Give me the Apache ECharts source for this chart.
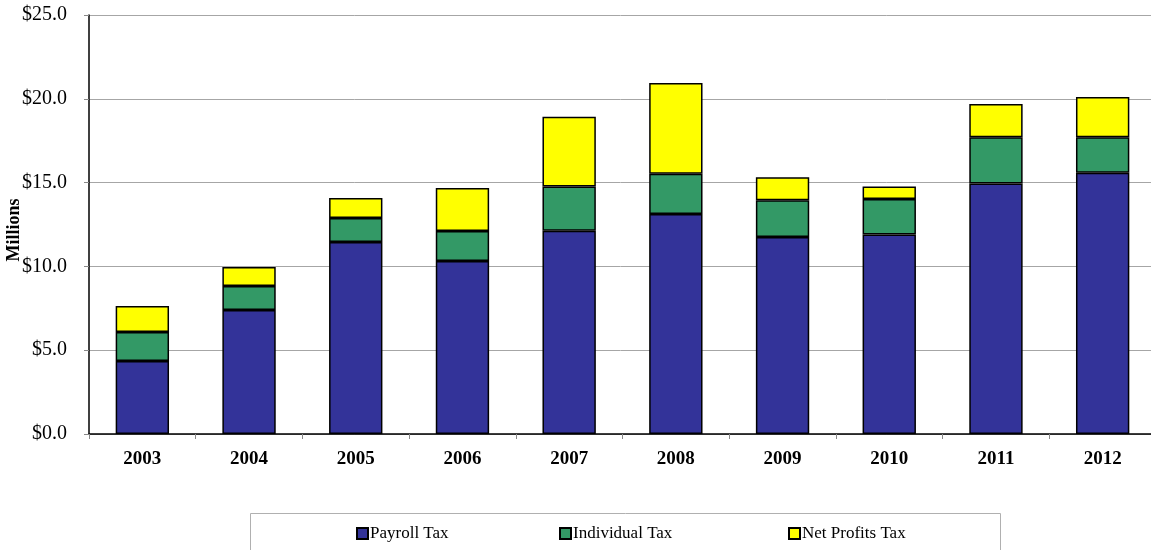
<!DOCTYPE html>
<html>
<head>
<meta charset="utf-8">
<script src="https://cdn.jsdelivr.net/npm/echarts@6/dist/echarts.min.js"></script>
<style>
  html, body { margin: 0; padding: 0; background: #fff; }
  #chart { width: 1151px; height: 550px; }
</style>
</head>
<body>
<div id="chart"></div>
<script>
// Tax revenue by year, in millions of dollars
const years = ['2003', '2004', '2005', '2006', '2007', '2008', '2009', '2010', '2011', '2012'];
const payrollTax = [4.36, 7.40, 11.46, 10.32, 12.13, 13.13, 11.75, 11.91, 14.94, 15.59];
const individualTax = [1.73, 1.43, 1.43, 1.79, 2.63, 2.40, 2.19, 2.11, 2.76, 2.11];
const netProfitsTax = [1.55, 1.13, 1.19, 2.57, 4.17, 5.41, 1.38, 0.74, 1.99, 2.41];

const seriesNames = ['Payroll Tax', 'Individual Tax', 'Net Profits Tax'];
const seriesColors = ['#333399', '#339966', '#FFFF00'];
const seriesData = [payrollTax, individualTax, netProfitsTax];

const serif = '"Liberation Serif", "DejaVu Serif", serif';

const chart = echarts.init(document.getElementById('chart'), null, { renderer: 'canvas' });

// horizontal position of each legend entry inside the framed legend box
const legendLefts = [356, 559, 788];

chart.setOption({
  animation: false,
  textStyle: { fontFamily: serif },
  grid: { left: 89, right: -5, top: 15, bottom: 116, containLabel: false, outerBoundsMode: 'none' },
  graphic: [
    {
      type: 'rect',
      shape: { x: 250.5, y: 513.5, width: 750, height: 50 },
      style: { fill: '#fff', stroke: '#b0b0b0', lineWidth: 1 },
      z: -1
    },
    {
      type: 'text',
      x: 14,
      y: 230,
      rotation: Math.PI / 2,
      style: {
        text: 'Millions',
        fontFamily: serif,
        fontWeight: 'bold',
        fontSize: 18,
        fill: '#000',
        align: 'center',
        verticalAlign: 'middle'
      }
    }
  ],
  legend: seriesNames.map((name, i) => ({
    data: [name],
    left: legendLefts[i],
    top: 525,
    padding: 0,
    icon: 'rect',
    itemWidth: 11,
    itemHeight: 11,
    selectedMode: false,
    textStyle: { fontFamily: serif, fontSize: 17, color: '#000', padding: [0, 0, 0, -3] }
  })),
  xAxis: {
    type: 'category',
    data: years,
    axisLine: { lineStyle: { color: '#000', width: 1.5 } },
    axisTick: { show: true, alignWithLabel: false, length: 5, lineStyle: { color: '#888' } },
    axisLabel: { fontFamily: serif, fontWeight: 'bold', fontSize: 19, color: '#000', margin: 16 }
  },
  yAxis: {
    type: 'value',
    min: 0,
    max: 25,
    interval: 5,
    axisLine: { show: true, lineStyle: { color: '#000', width: 1.5 } },
    axisTick: { show: true, length: 5, lineStyle: { color: '#888' } },
    axisLabel: {
      fontFamily: serif, fontSize: 20, color: '#000', margin: 22,
      formatter: v => '$' + v.toFixed(1)
    },
    splitLine: { show: true, lineStyle: { color: '#a6a6a6', width: 1 } }
  },
  series: seriesNames.map((name, i) => ({
    name: name,
    type: 'bar',
    stack: 'total',
    barWidth: '50%',
    data: seriesData[i],
    itemStyle: { color: seriesColors[i], borderColor: '#000', borderWidth: 1.5 }
  }))
});
</script>
</body>
</html>
